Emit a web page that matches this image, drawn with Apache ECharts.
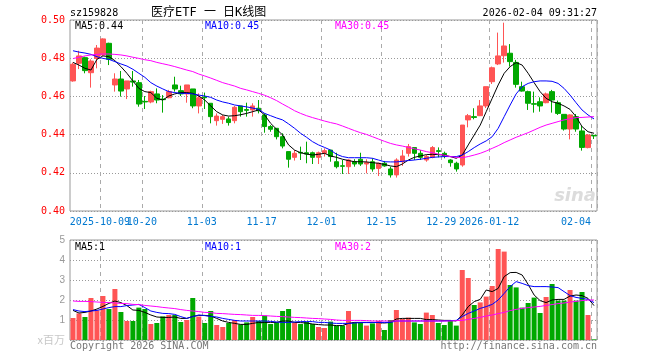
<!DOCTYPE html>
<html><head><meta charset="utf-8">
<script src="https://cdn.jsdelivr.net/npm/echarts@6/dist/echarts.min.js"></script>
<style>html,body{margin:0;padding:0;background:#fff}#c{width:660px;height:360px}</style>
</head><body><div id="c"></div>
<script>
const dates = ['2025-09-24','2025-09-25','2025-09-26','2025-09-29','2025-09-30','2025-10-09','2025-10-10','2025-10-13','2025-10-14','2025-10-15',
'2025-10-16','2025-10-17','2025-10-20','2025-10-21','2025-10-22','2025-10-23','2025-10-24','2025-10-27','2025-10-28','2025-10-29',
'2025-10-30','2025-10-31','2025-11-03','2025-11-04','2025-11-05','2025-11-06','2025-11-07','2025-11-10','2025-11-11','2025-11-12',
'2025-11-13','2025-11-14','2025-11-17','2025-11-18','2025-11-19','2025-11-20','2025-11-21','2025-11-24','2025-11-25','2025-11-26',
'2025-11-27','2025-11-28','2025-12-01','2025-12-02','2025-12-03','2025-12-04','2025-12-05','2025-12-08','2025-12-09','2025-12-10',
'2025-12-11','2025-12-12','2025-12-15','2025-12-16','2025-12-17','2025-12-18','2025-12-19','2025-12-22','2025-12-23','2025-12-24',
'2025-12-25','2025-12-26','2025-12-29','2025-12-30','2025-12-31','2026-01-05','2026-01-06','2026-01-07','2026-01-08','2026-01-09',
'2026-01-12','2026-01-13','2026-01-14','2026-01-15','2026-01-16','2026-01-19','2026-01-20','2026-01-21','2026-01-22','2026-01-23',
'2026-01-26','2026-01-27','2026-01-28','2026-01-29','2026-01-30','2026-02-02','2026-02-03','2026-02-04'];
const tickIdx = [5,12,22,32,42,52,62,70,87];
const tickText = ['2025-10-09','10-20','11-03','11-17','12-01','12-15','12-29','2026-01-12','02-04'];

const openP = [0.4681,0.4773,0.4803,0.4724,0.4799,0.4817,0.4878,0.4660,0.4691,0.4639,
0.4681,0.4672,0.4574,0.4571,0.4613,0.4586,0.4593,0.4660,0.4630,0.4613,
0.4639,0.4550,0.4597,0.4564,0.4473,0.4480,0.4482,0.4473,0.4550,0.4531,
0.4529,0.4538,0.4503,0.4442,0.4433,0.4389,0.4311,0.4281,0.4307,0.4305,
0.4305,0.4281,0.4302,0.4319,0.4258,0.4237,0.4232,0.4258,0.4271,0.4246,
0.4258,0.4223,0.4250,0.4220,0.4189,0.4258,0.4302,0.4332,0.4302,0.4267,
0.4281,0.4316,0.4302,0.4267,0.4250,0.4241,0.4477,0.4494,0.4499,0.4550,
0.4677,0.4770,0.4813,0.4826,0.4778,0.4651,0.4625,0.4562,0.4572,0.4567,
0.4625,0.4567,0.4506,0.4429,0.4494,0.4419,0.4332,0.4396];
const closeP = [0.4768,0.4812,0.4735,0.4785,0.4853,0.4901,0.4794,0.4691,0.4628,0.4681,
0.4675,0.4560,0.4571,0.4625,0.4581,0.4583,0.4625,0.4639,0.4613,0.4660,
0.4550,0.4593,0.4593,0.4494,0.4497,0.4494,0.4463,0.4543,0.4520,0.4527,
0.4550,0.4525,0.4442,0.4428,0.4389,0.4340,0.4271,0.4302,0.4304,0.4298,
0.4281,0.4305,0.4316,0.4285,0.4232,0.4234,0.4267,0.4246,0.4246,0.4253,
0.4220,0.4250,0.4236,0.4189,0.4267,0.4288,0.4337,0.4302,0.4281,0.4285,
0.4332,0.4312,0.4288,0.4253,0.4220,0.4450,0.4499,0.4490,0.4550,0.4651,
0.4750,0.4812,0.4864,0.4782,0.4663,0.4628,0.4564,0.4559,0.4550,0.4613,
0.4581,0.4511,0.4429,0.4503,0.4429,0.4333,0.4398,0.4393];
const lowP = [0.4677,0.4743,0.4721,0.4646,0.4747,0.4812,0.4764,0.4625,0.4599,0.4586,
0.4651,0.4546,0.4534,0.4564,0.4564,0.4515,0.4590,0.4625,0.4602,0.4567,
0.4538,0.4511,0.4534,0.4459,0.4447,0.4456,0.4447,0.4459,0.4494,0.4494,
0.4494,0.4511,0.4410,0.4415,0.4375,0.4328,0.4227,0.4264,0.4267,0.4250,
0.4246,0.4246,0.4285,0.4258,0.4223,0.4194,0.4194,0.4232,0.4236,0.4197,
0.4206,0.4183,0.4232,0.4175,0.4175,0.4236,0.4285,0.4267,0.4267,0.4258,
0.4276,0.4281,0.4276,0.4232,0.4206,0.4232,0.4438,0.4480,0.4497,0.4539,
0.4665,0.4764,0.4777,0.4756,0.4646,0.4625,0.4529,0.4515,0.4520,0.4564,
0.4515,0.4503,0.4421,0.4375,0.4415,0.4316,0.4328,0.4377];
const highP = [0.4777,0.4839,0.4808,0.4794,0.4869,0.4904,0.4881,0.4721,0.4733,0.4681,
0.4733,0.4686,0.4602,0.4630,0.4642,0.4607,0.4634,0.4703,0.4656,0.4660,
0.4639,0.4616,0.4620,0.4564,0.4511,0.4503,0.4494,0.4550,0.4550,0.4567,
0.4564,0.4581,0.4511,0.4450,0.4433,0.4407,0.4311,0.4319,0.4337,0.4363,
0.4311,0.4311,0.4328,0.4319,0.4305,0.4267,0.4271,0.4271,0.4305,0.4271,
0.4276,0.4253,0.4262,0.4232,0.4276,0.4319,0.4351,0.4332,0.4319,0.4293,
0.4340,0.4333,0.4311,0.4271,0.4258,0.4450,0.4508,0.4538,0.4581,0.4651,
0.4756,0.4934,0.4986,0.4874,0.4791,0.4677,0.4630,0.4625,0.4595,0.4620,
0.4634,0.4578,0.4506,0.4506,0.4508,0.4445,0.4403,0.4398];

const ma5 = [0.4778,0.4764,0.4747,0.4738,0.4794,0.4812,0.4808,0.4787,0.4756,0.4721,
0.4681,0.4642,0.4625,0.4620,0.4590,0.4581,0.4602,0.4613,0.4620,0.4620,
0.4616,0.4602,0.4581,0.4550,0.4520,0.4503,0.4497,0.4499,0.4504,0.4511,
0.4520,0.4529,0.4503,0.4459,0.4428,0.4398,0.4346,0.4319,0.4305,0.4298,
0.4293,0.4297,0.4302,0.4288,0.4281,0.4271,0.4264,0.4258,0.4258,0.4257,
0.4253,0.4250,0.4244,0.4236,0.4232,0.4246,0.4267,0.4281,0.4288,0.4295,
0.4297,0.4295,0.4293,0.4285,0.4276,0.4293,0.4346,0.4398,0.4450,0.4520,
0.4590,0.4660,0.4721,0.4756,0.4777,0.4764,0.4721,0.4672,0.4625,0.4590,
0.4572,0.4564,0.4550,0.4532,0.4494,0.4442,0.4415,0.4407];
const ma10 = [0.4839,0.4832,0.4827,0.4820,0.4808,0.4799,0.4794,0.4782,0.4770,0.4759,
0.4742,0.4721,0.4700,0.4672,0.4654,0.4639,0.4625,0.4620,0.4616,0.4616,
0.4613,0.4607,0.4602,0.4595,0.4581,0.4571,0.4564,0.4555,0.4550,0.4545,
0.4539,0.4532,0.4511,0.4499,0.4487,0.4477,0.4456,0.4433,0.4407,0.4386,
0.4363,0.4346,0.4333,0.4319,0.4297,0.4285,0.4279,0.4279,0.4279,0.4279,
0.4276,0.4267,0.4258,0.4257,0.4257,0.4260,0.4264,0.4267,0.4271,0.4276,
0.4281,0.4283,0.4285,0.4285,0.4285,0.4293,0.4311,0.4332,0.4351,0.4367,
0.4389,0.4433,0.4494,0.4555,0.4613,0.4651,0.4668,0.4677,0.4681,0.4681,
0.4679,0.4668,0.4642,0.4607,0.4567,0.4529,0.4503,0.4482];
const ma30 = [0.4798,0.4805,0.4812,0.4817,0.4820,0.4822,0.4822,0.4820,0.4817,0.4812,
0.4805,0.4799,0.4792,0.4787,0.4778,0.4771,0.4764,0.4756,0.4747,0.4738,
0.4730,0.4717,0.4707,0.4696,0.4684,0.4672,0.4663,0.4654,0.4642,0.4634,
0.4625,0.4616,0.4606,0.4593,0.4578,0.4560,0.4543,0.4525,0.4511,0.4499,
0.4489,0.4480,0.4471,0.4463,0.4456,0.4445,0.4433,0.4421,0.4410,0.4401,
0.4389,0.4377,0.4365,0.4354,0.4346,0.4340,0.4333,0.4326,0.4319,0.4311,
0.4305,0.4298,0.4292,0.4285,0.4281,0.4279,0.4285,0.4293,0.4302,0.4314,
0.4328,0.4342,0.4358,0.4372,0.4386,0.4398,0.4410,0.4424,0.4438,0.4450,
0.4459,0.4468,0.4477,0.4483,0.4489,0.4490,0.4492,0.4494];

const volume = [1.10,1.33,1.15,2.10,1.48,2.20,1.55,2.55,1.40,0.95,
0.95,1.62,1.55,0.80,0.85,1.18,1.25,1.25,0.90,1.00,
2.10,1.17,0.85,1.45,0.75,0.65,0.85,1.00,0.78,0.88,
1.15,0.95,1.22,0.80,0.88,1.45,1.55,0.88,0.80,0.90,
0.80,0.65,0.60,0.92,0.72,0.72,1.45,0.88,0.88,0.72,
0.83,0.95,0.50,1.00,1.50,1.05,1.12,0.88,0.80,1.37,
1.25,0.85,0.75,0.95,0.72,3.50,3.10,1.75,1.88,2.17,
2.70,4.55,4.42,2.75,2.63,1.62,1.85,2.12,1.35,2.15,
2.80,1.97,1.97,2.50,1.97,2.40,1.25,0.03];
const volMa5 = [1.48,1.35,1.38,1.45,1.55,1.68,1.83,1.95,1.87,1.72,
1.50,1.48,1.38,1.25,1.15,1.13,1.13,1.15,1.08,1.08,
1.18,1.23,1.23,1.20,1.08,0.95,0.88,0.83,0.78,0.78,
0.83,0.88,0.88,0.88,0.88,0.95,0.95,0.88,0.87,0.85,
0.80,0.77,0.75,0.75,0.72,0.72,0.83,0.88,0.88,0.88,
0.88,0.87,0.85,0.88,1.05,1.08,1.08,1.08,1.08,1.02,
1.02,1.00,0.98,0.98,0.95,1.25,1.67,1.92,2.03,2.50,
2.42,2.58,3.17,3.37,3.38,3.25,2.78,2.25,1.97,1.87,
2.00,2.03,2.03,2.20,2.25,2.22,2.08,1.72];
const volMa10 = [1.52,1.45,1.42,1.45,1.48,1.55,1.62,1.67,1.67,1.72,
1.75,1.78,1.62,1.45,1.38,1.33,1.32,1.28,1.17,1.08,
1.17,1.25,1.22,1.18,1.15,1.08,1.03,0.98,0.95,0.95,
0.95,0.95,0.95,0.93,0.90,0.88,0.88,0.90,0.92,0.92,
0.92,0.88,0.88,0.85,0.83,0.83,0.83,0.85,0.87,0.87,
0.87,0.88,0.88,0.88,0.95,0.95,0.95,0.95,0.95,0.95,
0.95,0.95,0.95,0.97,0.98,1.17,1.33,1.45,1.58,1.67,
1.78,2.00,2.33,2.67,2.92,2.83,2.72,2.67,2.67,2.67,
2.65,2.62,2.42,2.22,2.13,2.08,2.03,1.87];
const volMa30 = [1.95,1.93,1.93,1.92,1.90,1.88,1.87,1.85,1.83,1.82,
1.78,1.77,1.73,1.70,1.67,1.63,1.60,1.57,1.52,1.48,
1.45,1.42,1.38,1.37,1.33,1.32,1.30,1.28,1.27,1.25,
1.23,1.23,1.22,1.20,1.18,1.17,1.15,1.13,1.12,1.10,
1.08,1.07,1.05,1.03,1.00,0.98,0.98,0.98,0.98,0.97,
0.95,0.95,0.95,0.95,0.95,0.95,0.95,0.95,0.95,0.95,
0.95,0.95,0.95,0.95,0.97,0.98,1.03,1.08,1.13,1.20,
1.25,1.32,1.38,1.47,1.53,1.58,1.62,1.65,1.68,1.73,
1.77,1.82,1.85,1.90,1.93,1.97,2.00,2.00];

const UP = '#ff5555', DOWN = '#00a800';
const MONO = '"DejaVu Sans Mono", "Liberation Mono", monospace';
const candles = dates.map((d, i) => [openP[i], closeP[i], lowP[i], highP[i]]);
const isTick = (i) => tickIdx.indexOf(i) >= 0;
const firstTick = tickIdx[0];

const chart = echarts.init(document.getElementById('c'), null, {renderer: 'canvas'});
function txt(x, y, text, fill, opt) {
  opt = opt || {};
  return {type: 'text', x: x, y: y, silent: true, z: 100,
    style: {text: text, fill: fill, font: (opt.size || 10) + 'px ' + (opt.family || MONO),
      align: opt.align || 'left', verticalAlign: 'middle', textAlign: opt.align || 'left', textVerticalAlign: 'middle'}};
}
const dashV = {show: true, interval: (i) => isTick(i), lineStyle: {color: '#aaa', type: [4, 4], width: 1}};
const lblStyle = {color: '#0078d0', fontFamily: MONO, fontSize: 10};
const richLbl = {a: Object.assign({padding: [0, 6, 0, 0]}, lblStyle), b: Object.assign({padding: [0, 3, 0, 0]}, lblStyle)};
function lblFmt(v, i) {
  const k = tickIdx.indexOf(i); if (k < 0) return '';
  return k === tickIdx.length - 1 ? '{b|' + tickText[k] + '}' : '{a|' + tickText[k] + '}';
}
chart.setOption({
  animation: false,
  backgroundColor: '#fff',
  grid: [
    {left: 70, top: 20, width: 527, height: 191, show: true, borderColor: '#999', borderWidth: 1},
    {left: 70, top: 240, width: 527, height: 100, show: true, borderColor: '#999', borderWidth: 1}
  ],
  xAxis: [
    {type: 'category', gridIndex: 0, data: dates, boundaryGap: true, position: 'bottom',
     axisLine: {show: false}, axisTick: {show: false},
     axisLabel: {show: true, interval: (i) => isTick(i) && i !== firstTick, hideOverlap: false, alignMaxLabel: 'right',
       color: '#0078d0', fontFamily: MONO, fontSize: 10, margin: 6, rich: richLbl, formatter: lblFmt},
     splitLine: dashV},
    {type: 'category', gridIndex: 1, data: dates, boundaryGap: true,
     axisLine: {show: false}, axisTick: {show: false}, axisLabel: {show: false},
     splitLine: dashV},
    {type: 'category', gridIndex: 0, data: dates, boundaryGap: true, position: 'bottom',
     axisLine: {show: false}, axisTick: {show: false}, splitLine: {show: false},
     axisLabel: {show: true, interval: (i) => i === firstTick, hideOverlap: false,
       color: '#0078d0', fontFamily: MONO, fontSize: 10, margin: 6, rich: richLbl, formatter: lblFmt}}
  ],
  yAxis: [
    {type: 'value', gridIndex: 0, min: 0.40, max: 0.50, interval: 0.02,
     axisLine: {show: false}, axisTick: {show: false},
     axisLabel: {color: '#ff0000', fontFamily: MONO, fontSize: 10, margin: 5, formatter: (v) => v.toFixed(2)},
     splitLine: {show: true, lineStyle: {color: '#999', type: [1, 2], width: 1}}},
    {type: 'value', gridIndex: 1, min: 0, max: 5, interval: 1,
     axisLine: {show: false}, axisTick: {show: false},
     axisLabel: {color: '#999', fontFamily: '"Liberation Sans", sans-serif', fontSize: 10, margin: 5,
       formatter: (v) => v === 0 ? '' : String(v)},
     splitLine: {show: true, lineStyle: {color: '#999', type: [1, 2], width: 1}}}
  ],
  series: [
    {type: 'candlestick', xAxisIndex: 0, yAxisIndex: 0, data: candles, barWidth: 5,
     itemStyle: {color: UP, color0: DOWN, borderColor: UP, borderColor0: DOWN, borderWidth: 1}},
    {type: 'line', xAxisIndex: 0, yAxisIndex: 0, data: ma5, showSymbol: false, lineStyle: {color: '#000', width: 1}},
    {type: 'line', xAxisIndex: 0, yAxisIndex: 0, data: ma10, showSymbol: false, lineStyle: {color: '#0000ff', width: 1}},
    {type: 'line', xAxisIndex: 0, yAxisIndex: 0, data: ma30, showSymbol: false, lineStyle: {color: '#ff00ff', width: 1}},
    {type: 'bar', xAxisIndex: 1, yAxisIndex: 1, data: volume, barWidth: 5,
     itemStyle: {color: (p) => closeP[p.dataIndex] >= openP[p.dataIndex] ? UP : DOWN}},
    {type: 'line', xAxisIndex: 1, yAxisIndex: 1, data: volMa5, showSymbol: false, lineStyle: {color: '#000', width: 1}},
    {type: 'line', xAxisIndex: 1, yAxisIndex: 1, data: volMa10, showSymbol: false, lineStyle: {color: '#0000ff', width: 1}},
    {type: 'line', xAxisIndex: 1, yAxisIndex: 1, data: volMa30, showSymbol: false, lineStyle: {color: '#ff00ff', width: 1}}
  ],
  graphic: [
    txt(70, 13, 'sz159828', '#000'),
    txt(151, 12.5, '医疗ETF 一 日K线图', '#000', {size: 12, family: '"DejaVu Sans Mono", "Noto Sans CJK SC", monospace'}),
    txt(597, 13, '2026-02-04 09:31:27', '#000', {align: 'right'}),
    txt(75, 26, 'MA5:0.44', '#000'),
    txt(205, 26, 'MA10:0.45', '#0000ff'),
    txt(335, 26, 'MA30:0.45', '#ff00ff'),
    txt(75, 247, 'MA5:1', '#000'),
    txt(205, 247, 'MA10:1', '#0000ff'),
    txt(335, 247, 'MA30:2', '#ff00ff'),
    txt(65, 340, 'x百万', '#c8c8c8', {align: 'right', size: 11, family: '"Noto Sans CJK SC", sans-serif'}),
    txt(70, 346, 'Copyright 2026 SINA.COM', '#777'),
    txt(597, 346, 'http://finance.sina.com.cn', '#777', {align: 'right'}),
    {type: 'text', x: 596, y: 196, silent: true, z: 50,
     style: {text: 'sina', fill: '#dcdcdc', font: 'italic bold 18px "DejaVu Sans", sans-serif', align: 'right', verticalAlign: 'middle', textAlign: 'right', textVerticalAlign: 'middle'}}
  ]
});
</script></body></html>
